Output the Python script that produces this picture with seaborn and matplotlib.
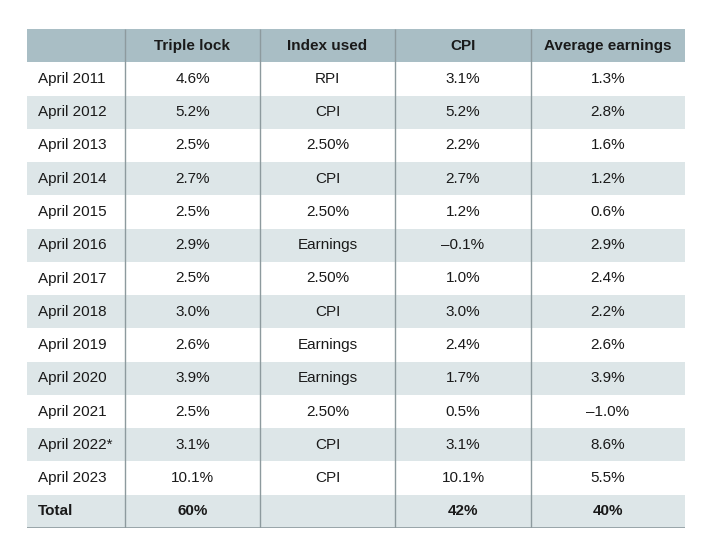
import matplotlib
matplotlib.use("Agg")
import matplotlib.pyplot as plt
import numpy as np
import seaborn as sns

columns = ["", "Triple lock", "Index used", "CPI", "Average earnings"]
periods = ["April 2011", "April 2012", "April 2013", "April 2014", "April 2015",
           "April 2016", "April 2017", "April 2018", "April 2019", "April 2020",
           "April 2021", "April 2022*", "April 2023", "Total"]
triple_lock = ["4.6%", "5.2%", "2.5%", "2.7%", "2.5%", "2.9%", "2.5%", "3.0%",
               "2.6%", "3.9%", "2.5%", "3.1%", "10.1%", "60%"]
index_used = ["RPI", "CPI", "2.50%", "CPI", "2.50%", "Earnings", "2.50%", "CPI",
              "Earnings", "Earnings", "2.50%", "CPI", "CPI", ""]
cpi = ["3.1%", "5.2%", "2.2%", "2.7%", "1.2%", "\u20130.1%", "1.0%", "3.0%",
       "2.4%", "1.7%", "0.5%", "3.1%", "10.1%", "42%"]
avg_earnings = ["1.3%", "2.8%", "1.6%", "1.2%", "0.6%", "2.9%", "2.4%", "2.2%",
                "2.6%", "3.9%", "\u20131.0%", "8.6%", "5.5%", "40%"]

sns.set_theme(style="white")
plt.rcParams["font.family"] = ["Liberation Sans", "DejaVu Sans"]

W, H = 720, 550
fig = plt.figure(figsize=(W / 100, H / 100), dpi=100)
left, right, top, bottom = 27, 685, 29, 528
ax = fig.add_axes([left / W, 1 - bottom / H, (right - left) / W, (bottom - top) / H])

# row shading: 2 = header, 1 = banded row, 0 = white
n_rows = len(periods) + 1
shade = np.array([[2]] + [[i % 2] for i in range(len(periods))])
cmap = matplotlib.colors.ListedColormap(["#ffffff", "#dde6e8", "#a9bec5"])
sns.heatmap(shade, ax=ax, cmap=cmap, vmin=-0.5, vmax=2.5, cbar=False,
            xticklabels=False, yticklabels=False)

# column boundaries as fraction of table width
col_px = [27, 125, 260, 395, 531, 685]
edges = [(c - left) / (right - left) for c in col_px]
ax.vlines(edges[1:-1], 0, n_rows, colors="#8d9a9e", linewidth=1.0)
ax.hlines(n_rows, 0, 1, colors="#8d9a9e", linewidth=1.2)

txt = "#1a1a1a"
fs = 11
for j, name in enumerate(columns[1:], start=1):
    cx = (edges[j] + edges[j + 1]) / 2
    ax.text(cx, 0.5, name, ha="center", va="center", fontsize=fs,
            fontweight="bold", color=txt)

values = [triple_lock, index_used, cpi, avg_earnings]
first_x = (38 - left) / (right - left)
for i, p in enumerate(periods):
    y = i + 1.5
    bold = "bold" if p == "Total" else "normal"
    ax.text(first_x, y, p, ha="left", va="center", fontsize=fs,
            fontweight=bold, color=txt)
    for j, col in enumerate(values, start=1):
        cx = (edges[j] + edges[j + 1]) / 2
        ax.text(cx, y, col[i], ha="center", va="center", fontsize=fs,
                fontweight=bold, color=txt)

for s in ax.spines.values():
    s.set_visible(False)

fig.savefig("out.png", dpi=100, facecolor="white")
